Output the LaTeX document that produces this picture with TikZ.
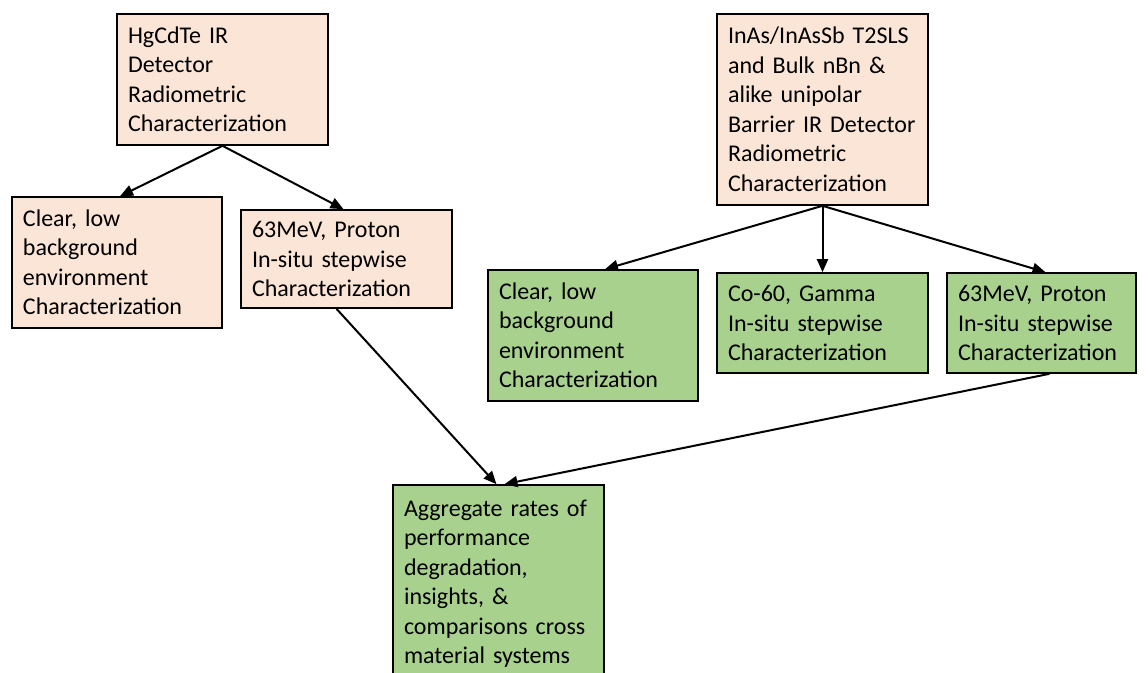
\documentclass[tikz,border=0pt]{standalone}
\usepackage{fontspec}
\setmainfont{Carlito}
\usetikzlibrary{arrows.meta,calc}
\definecolor{peach}{HTML}{FBE5D6}
\definecolor{leaf}{HTML}{A9D18E}
\tikzset{
  box/.style={draw=black, line width=1.6pt, rectangle, align=left, inner xsep=11pt, inner ysep=0pt,
    font=\fontsize{24}{29.5}\selectfont, text=black},
  pbox/.style={box, fill=peach},
  gbox/.style={box, fill=leaf},
  conn/.style={line width=2pt, -{Triangle[length=13pt,width=11pt]}}
}
\newcommand{\bx}[6]{% name, style, cx, cy, w, h
  \node[#2, minimum width=#5pt, minimum height=#6pt, text width=#5pt-22pt] (#1) at (#3,#4)}
\begin{document}
\begin{tikzpicture}[x=1pt,y=-1pt]
\useasboundingbox (0,0) rectangle (1148,672);
\clip (0,0) rectangle (1148,672);
\bx{hg}{pbox}{222.5}{79.5}{211}{131}{HgCdTe IR\\Detector\\Radiometric\\Characterization};
\bx{clearL}{pbox}{117}{262.5}{210}{131}{Clear, low\\background\\environment\\Characterization};
\bx{protL}{pbox}{346.5}{259}{211}{98}{63MeV, Proton\\In-situ stepwise\\Characterization};
\bx{inas}{pbox}{822.5}{109.5}{211}{191}{InAs/InAsSb T2SLS\\and Bulk nBn \&\\alike unipolar\\Barrier IR Detector\\Radiometric\\Characterization};
\bx{clearR}{gbox}{593}{335.5}{210}{131}{Clear, low\\background\\environment\\Characterization};
\bx{co}{gbox}{822.5}{323}{211}{100}{Co-60, Gamma\\In-situ stepwise\\Characterization};
\bx{protR}{gbox}{1041.5}{323}{189}{100}{63MeV, Proton\\In-situ stepwise\\Characterization};
\bx{agg}{gbox}{498.5}{583.5}{211}{197}{Aggregate rates of\\performance\\degradation,\\insights, \&\\comparisons cross\\material systems};
\draw[conn] (hg.south) -- ([xshift=3pt]clearL.north);
\draw[conn] (hg.south) -- ([xshift=-3pt]protL.north);
\draw[conn] (inas.south) -- ([xshift=12pt]clearR.north);
\draw[conn] (inas.south) -- (co.north);
\draw[conn] (inas.south) -- ([xshift=4pt]protR.north);
\draw[conn] ([xshift=-10pt]protL.south) -- ([xshift=-2pt]agg.north);
\draw[conn] ([xshift=8pt]protR.south) -- ([xshift=6pt]agg.north);
\end{tikzpicture}
\end{document}
